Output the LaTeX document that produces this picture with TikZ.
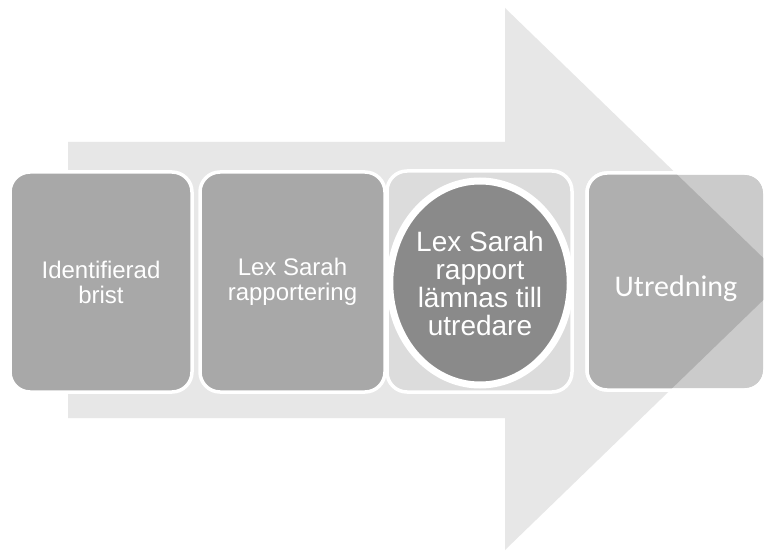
\documentclass[tikz,border=0pt]{standalone}
\usepackage{fontspec}
\setmainfont{Liberation Sans}
\newfontfamily\calibfont{Carlito}
\usetikzlibrary{shapes.geometric}
\definecolor{arrowgray}{HTML}{E7E7E7}
\definecolor{boxgray}{HTML}{A8A8A8}
\definecolor{boxthree}{HTML}{DCDCDC}
\definecolor{circgray}{HTML}{8A8A8A}
\definecolor{boxfourlight}{HTML}{CBCBCB}
\definecolor{boxfourdark}{HTML}{AFAFAF}
\begin{document}
\begin{tikzpicture}[x=1pt,y=-1pt,
  stepbox/.style={draw=white, line width=3.5pt, rounded corners=20pt, fill=boxgray,
    text=white, align=center, inner sep=0pt, outer sep=0pt,
    font=\fontsize{24}{25}\selectfont},
  ringnode/.style={ellipse, draw=white, line width=7pt, fill=circgray, text=white,
    align=center, inner sep=0pt, outer sep=0pt, font=\fontsize{28}{28}\selectfont}]
\useasboundingbox (0,0) rectangle (766,553);
\fill[white] (0,0) rectangle (766,553);
% big arrow
\fill[arrowgray] (68,142) -- (505,142) -- (505,8) -- (785,279) -- (505,550) -- (505,418) -- (68,418) -- cycle;
% boxes
\node[stepbox, minimum width=182pt, minimum height=220pt] (b1) at (101,282) {Identifierad\\brist};
\node[stepbox, minimum width=185pt, minimum height=220pt] (b2) at (292.5,282) {Lex Sarah\\rapportering};
\node[stepbox, fill=boxthree, minimum width=185pt, minimum height=221pt] (b3) at (479.5,281.5) {};
\node[ringnode, minimum width=168pt, minimum height=204pt] (c3) at (480,283) {Lex Sarah\\rapport\\lämnas till\\utredare};
\node[stepbox, fill=boxfourlight, minimum width=178pt, minimum height=217pt] (b4) at (676,281.5) {};
\begin{scope}
  \clip[rounded corners=20pt] (b4.north west) rectangle (b4.south east);
  \fill[boxfourdark] (505,8) -- (785,279) -- (505,550) -- cycle;
\end{scope}
\draw[white, line width=3.5pt, rounded corners=20pt] (b4.north west) rectangle (b4.south east);
\node[text=white, font=\calibfont\fontsize{30}{30}\selectfont] (t4) at ([yshift=-7pt]b4.center) {Utredning};
\end{tikzpicture}
\end{document}
